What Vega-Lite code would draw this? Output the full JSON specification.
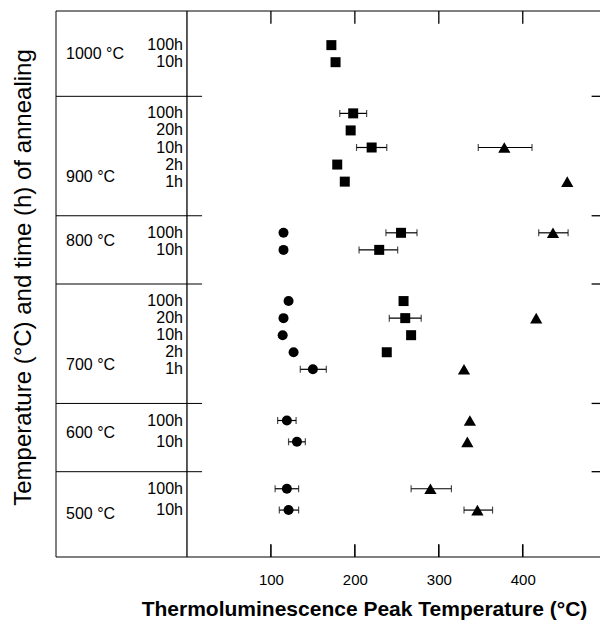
{
  "$schema": "https://vega.github.io/schema/vega-lite/v6.json",
  "width": 544,
  "height": 546,
  "autosize": {"type": "none"},
  "padding": {"left": 56, "top": 11, "right": 1, "bottom": 65},
  "background": "white",
  "config": {"view": {"stroke": null}, "font": "Liberation Sans", "axis": {"grid": false}},
  "datasets": {
    "points": [
      {"row": "1000|100h", "series": "square", "tl": 172},
      {"row": "1000|10h", "series": "square", "tl": 177},
      {"row": "900|100h", "series": "square", "tl": 198, "lo": 182, "hi": 214},
      {"row": "900|20h", "series": "square", "tl": 195},
      {"row": "900|10h", "series": "square", "tl": 220, "lo": 202, "hi": 238},
      {"row": "900|2h", "series": "square", "tl": 179},
      {"row": "900|1h", "series": "square", "tl": 188},
      {"row": "800|100h", "series": "square", "tl": 255, "lo": 237, "hi": 274},
      {"row": "800|10h", "series": "square", "tl": 229, "lo": 205, "hi": 251},
      {"row": "700|100h", "series": "square", "tl": 258},
      {"row": "700|20h", "series": "square", "tl": 260, "lo": 241, "hi": 279},
      {"row": "700|10h", "series": "square", "tl": 267},
      {"row": "700|2h", "series": "square", "tl": 238},
      {"row": "900|10h", "series": "triangle", "tl": 378, "lo": 347, "hi": 411},
      {"row": "900|1h", "series": "triangle", "tl": 453},
      {"row": "800|100h", "series": "triangle", "tl": 436, "lo": 419, "hi": 454},
      {"row": "700|20h", "series": "triangle", "tl": 416},
      {"row": "700|1h", "series": "triangle", "tl": 330},
      {"row": "600|100h", "series": "triangle", "tl": 337},
      {"row": "600|10h", "series": "triangle", "tl": 334},
      {"row": "500|100h", "series": "triangle", "tl": 290, "lo": 267, "hi": 315},
      {"row": "500|10h", "series": "triangle", "tl": 346, "lo": 330, "hi": 364},
      {"row": "800|100h", "series": "circle", "tl": 115},
      {"row": "800|10h", "series": "circle", "tl": 115},
      {"row": "700|100h", "series": "circle", "tl": 121},
      {"row": "700|20h", "series": "circle", "tl": 115},
      {"row": "700|10h", "series": "circle", "tl": 114},
      {"row": "700|2h", "series": "circle", "tl": 127},
      {"row": "700|1h", "series": "circle", "tl": 150, "lo": 135, "hi": 166},
      {"row": "600|100h", "series": "circle", "tl": 119, "lo": 108, "hi": 130},
      {"row": "600|10h", "series": "circle", "tl": 131, "lo": 121, "hi": 141},
      {"row": "500|100h", "series": "circle", "tl": 119, "lo": 105, "hi": 133},
      {"row": "500|10h", "series": "circle", "tl": 121, "lo": 110, "hi": 133}
    ],
    "times": [
      {"row": "1000|100h", "time": "100h"},
      {"row": "1000|10h", "time": "10h"},
      {"row": "900|100h", "time": "100h"},
      {"row": "900|20h", "time": "20h"},
      {"row": "900|10h", "time": "10h"},
      {"row": "900|2h", "time": "2h"},
      {"row": "900|1h", "time": "1h"},
      {"row": "800|100h", "time": "100h"},
      {"row": "800|10h", "time": "10h"},
      {"row": "700|100h", "time": "100h"},
      {"row": "700|20h", "time": "20h"},
      {"row": "700|10h", "time": "10h"},
      {"row": "700|2h", "time": "2h"},
      {"row": "700|1h", "time": "1h"},
      {"row": "600|100h", "time": "100h"},
      {"row": "600|10h", "time": "10h"},
      {"row": "500|100h", "time": "100h"},
      {"row": "500|10h", "time": "10h"}
    ],
    "temps": [
      {"row": "T1000", "label": "1000 °C"},
      {"row": "T900", "label": "900 °C"},
      {"row": "T800", "label": "800 °C"},
      {"row": "T700", "label": "700 °C"},
      {"row": "T600", "label": "600 °C"},
      {"row": "T500", "label": "500 °C"}
    ],
    "bounds": [{"row": "b1"}, {"row": "b2"}, {"row": "b3"}, {"row": "b4"}, {"row": "b5"}],
    "frameTop": [{"row": "top"}],
    "frame": [{"row": "top"}, {"row": "bottom"}],
    "xticks": [{"v": 100}, {"v": 200}, {"v": 300}, {"v": 400}]
  },
  "encoding": {
    "y": {
      "field": "row",
      "type": "nominal",
      "scale": {
        "type": "point",
        "padding": 0,
        "domain": ["top","_1","_2","_3","_4","_5","_6","_7","1000|100h","_9","T1000","_11","1000|10h","_13","_14","_15","_16","_17","_18","_19","b1","_21","_22","_23","900|100h","_25","_26","_27","900|20h","_29","_30","_31","900|10h","_33","_34","_35","900|2h","_37","_38","T900","900|1h","_41","_42","_43","_44","_45","_46","_47","b2","_49","_50","_51","800|100h","_53","T800","_55","800|10h","_57","_58","_59","_60","_61","_62","_63","b3","_65","_66","_67","700|100h","_69","_70","_71","700|20h","_73","_74","_75","700|10h","_77","_78","_79","700|2h","_81","_82","T700","700|1h","_85","_86","_87","_88","_89","_90","_91","b4","_93","_94","_95","600|100h","_97","_98","T600","_100","600|10h","_102","_103","_104","_105","_106","_107","b5","_109","_110","_111","500|100h","_113","_114","_115","_116","500|10h","T500","_119","_120","_121","_122","_123","_124","_125","_126","_127","bottom"]
      },
      "axis": {
        "labels": false,
        "ticks": false,
        "domain": false,
        "title": "Temperature (°C) and time (h) of annealing",
        "titleFont": "Liberation Sans",
        "titleFontSize": 24,
        "titleFontWeight": "normal",
        "titleColor": "black",
        "titlePadding": 21,
        "titleY": 266
      }
    }
  },
  "layer": [
    {
      "data": {"name": "frameTop"},
      "mark": {"type": "rule", "color": "black", "strokeWidth": 1},
      "encoding": {
        "x": {"datum": -156, "type": "quantitative", "scale": {"domain": [-156, 492], "nice": false, "zero": false}, "axis": null},
        "y2": {"datum": "bottom"}
      }
    },
    {
      "data": {"name": "frameTop"},
      "mark": {"type": "rule", "color": "black", "strokeWidth": 1.3},
      "encoding": {
        "x": {"datum": 0, "type": "quantitative", "scale": {"domain": [-156, 492], "nice": false, "zero": false}, "axis": null},
        "y2": {"datum": "bottom"}
      }
    },
    {
      "data": {"name": "frame"},
      "mark": {"type": "rule", "color": "black", "strokeWidth": 1},
      "encoding": {
        "x": {"datum": -156, "type": "quantitative", "scale": {"domain": [-156, 492], "nice": false, "zero": false}, "axis": null},
        "x2": {"datum": 492}
      }
    },
    {
      "data": {"name": "bounds"},
      "mark": {"type": "rule", "color": "black", "strokeWidth": 1},
      "encoding": {
        "x": {"datum": -156, "type": "quantitative", "scale": {"domain": [-156, 492], "nice": false, "zero": false}, "axis": null},
        "x2": {"datum": 18}
      }
    },
    {
      "data": {"name": "bounds"},
      "mark": {"type": "rule", "color": "black", "strokeWidth": 1.3},
      "encoding": {
        "x": {"datum": 482, "type": "quantitative", "scale": {"domain": [-156, 492], "nice": false, "zero": false}, "axis": null},
        "x2": {"datum": 492}
      }
    },
    {
      "data": {"name": "xticks"},
      "mark": {"type": "rule", "color": "black", "strokeWidth": 1.3},
      "encoding": {
        "x": {"field": "v", "type": "quantitative", "scale": {"domain": [-156, 492], "nice": false, "zero": false}, "axis": null},
        "y": {"datum": "top"},
        "y2": {"datum": "_3"}
      }
    },
    {
      "data": {"name": "xticks"},
      "mark": {"type": "rule", "color": "black", "strokeWidth": 1.6},
      "encoding": {
        "x": {"field": "v", "type": "quantitative", "scale": {"domain": [-156, 492], "nice": false, "zero": false}, "axis": null},
        "y": {"datum": "_125"},
        "y2": {"datum": "bottom"}
      }
    },
    {
      "data": {"name": "times"},
      "mark": {"type": "text", "align": "right", "baseline": "middle", "dx": -4, "fontSize": 16, "font": "Liberation Sans", "color": "black"},
      "encoding": {
        "x": {"datum": 0, "type": "quantitative", "scale": {"domain": [-156, 492], "nice": false, "zero": false}, "axis": null},
        "text": {"field": "time"}
      }
    },
    {
      "data": {"name": "temps"},
      "mark": {"type": "text", "align": "left", "baseline": "middle", "fontSize": 16, "font": "Liberation Sans", "color": "black"},
      "encoding": {
        "x": {"datum": -144, "type": "quantitative", "scale": {"domain": [-156, 492], "nice": false, "zero": false}, "axis": null},
        "text": {"field": "label"}
      }
    },
    {
      "data": {"name": "points"},
      "transform": [{"filter": "isValid(datum.lo)"}],
      "mark": {"type": "rule", "color": "black", "strokeWidth": 1.2},
      "encoding": {
        "x": {"field": "lo", "type": "quantitative", "scale": {"domain": [-156, 492], "nice": false, "zero": false}, "axis": null},
        "x2": {"field": "hi"}
      }
    },
    {
      "data": {"name": "points"},
      "transform": [{"filter": "isValid(datum.lo)"}],
      "mark": {"type": "tick", "orient": "vertical", "size": 7, "thickness": 1.2, "color": "black"},
      "encoding": {
        "x": {"field": "lo", "type": "quantitative", "scale": {"domain": [-156, 492], "nice": false, "zero": false}, "axis": null}
      }
    },
    {
      "data": {"name": "points"},
      "transform": [{"filter": "isValid(datum.hi)"}],
      "mark": {"type": "tick", "orient": "vertical", "size": 7, "thickness": 1.2, "color": "black"},
      "encoding": {
        "x": {"field": "hi", "type": "quantitative", "scale": {"domain": [-156, 492], "nice": false, "zero": false}, "axis": null}
      }
    },
    {
      "data": {"name": "points"},
      "transform": [{"filter": "datum.series === 'square'"}],
      "mark": {"type": "point", "shape": "square", "size": 100, "filled": true, "opacity": 1, "color": "black"},
      "encoding": {
        "x": {"field": "tl", "type": "quantitative", "scale": {"domain": [-156, 492], "nice": false, "zero": false}, "axis": null}
      }
    },
    {
      "data": {"name": "points"},
      "transform": [{"filter": "datum.series === 'circle'"}],
      "mark": {"type": "point", "shape": "circle", "size": 100, "filled": true, "opacity": 1, "color": "black"},
      "encoding": {
        "x": {"field": "tl", "type": "quantitative", "scale": {"domain": [-156, 492], "nice": false, "zero": false}, "axis": null}
      }
    },
    {
      "data": {"name": "points"},
      "transform": [{"filter": "datum.series === 'triangle'"}],
      "mark": {"type": "point", "shape": "triangle-up", "size": 150, "filled": true, "opacity": 1, "color": "black"},
      "encoding": {
        "x": {"field": "tl", "type": "quantitative", "scale": {"domain": [-156, 492], "nice": false, "zero": false},
          "axis": {"orient": "bottom", "values": [100, 200, 300, 400], "ticks": false, "labelPadding": 15, "labelFontSize": 15, "labelFont": "Liberation Sans", "labelColor": "black", "domain": false,
            "title": "Thermoluminescence Peak Temperature (°C)", "titleFont": "Liberation Sans", "titleFontSize": 21, "titleFontWeight": "bold", "titleColor": "black", "titleX": 308, "titleY": 58, "titleBaseline": "alphabetic"}}
      }
    }
  ],
  "resolve": {"axis": {"x": "independent"}}
}
